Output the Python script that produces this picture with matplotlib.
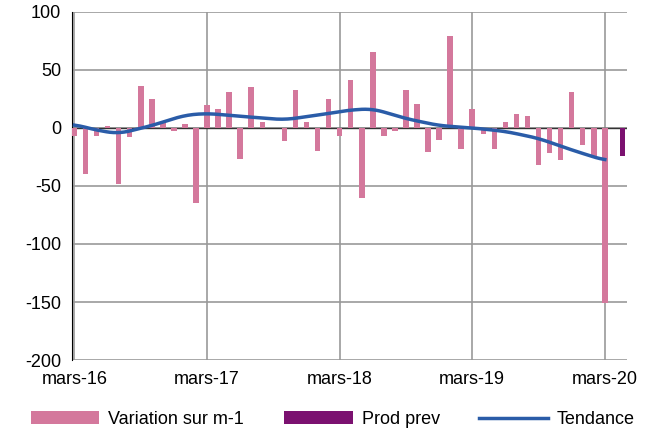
import matplotlib.pyplot as plt
import numpy as np

plt.rcParams['font.family'] = ['Liberation Sans', 'DejaVu Sans']
plt.rcParams['axes.unicode_minus'] = False

variation = [-7, -40, -7, 2, -48, -8, 36, 25, 5, -3, 3, -65,
             20, 16, 31, -27, 35, 5, 0, -11, 33, 5, -20, 25,
             -7, 41, -60, 65, -7, -3, 33, 21, -21, -10, 79, -18,
             16, -5, -18, 5, 12, 10, -32, -22, -28, 31, -15, -24,
             -151]
prod_prev = -24
trend_idx = [0, 2, 4, 7, 10, 12, 15, 19, 22, 25, 27, 30, 33, 36, 39, 42, 45, 48]
trend_val = [3, -2, -5, 2, 11, 12.5, 10, 7, 11, 15.5, 16.5, 8, 2, 0, -3, -9, -19, -28]
tick_pos = [0, 12, 24, 36, 48]
tick_lab = ['mars-16', 'mars-17', 'mars-18', 'mars-19', 'mars-20']

fig = plt.figure(figsize=(6.51, 4.38), dpi=100)
ax = fig.add_axes([0.111, 0.178, 0.852, 0.795])

x = np.arange(len(variation))
b1 = ax.bar(x, variation, width=0.5, color='#d4789c', zorder=3)
b2 = ax.bar(len(variation) + 0.6, prod_prev, width=0.5, color='#7b1170', zorder=3)

# tendance lissée
xs = np.linspace(0, 48, 300)
ys = np.interp(xs, trend_idx, trend_val)
k = np.ones(13) / 13
ys = np.convolve(np.pad(ys, 6, mode='edge'), k, mode='valid')
ln, = ax.plot(xs, ys, color='#2a5ca8', lw=2.5, zorder=4)

ax.set_xlim(-0.2, 50)
ax.set_ylim(-200, 100)
ax.set_yticks(range(-200, 101, 50))
ax.set_xticks(tick_pos)
ax.set_xticklabels(tick_lab)
ax.tick_params(labelsize=13, length=0, pad=8)
ax.grid(True, color='#999999', lw=1.2, zorder=0)
ax.axhline(0, color='#333333', lw=1, zorder=2)
for s in ['top', 'right', 'bottom']:
    ax.spines[s].set_visible(False)
ax.spines['left'].set_color('black')

ax.legend([b1, b2, ln], ['Variation sur m-1', 'Prod prev', 'Tendance'],
          loc='upper center', bbox_to_anchor=(0.47, -0.1), ncol=3, frameon=False,
          fontsize=13, handlelength=3.8, handletextpad=0.5, columnspacing=2.2)

plt.savefig('out.png')
